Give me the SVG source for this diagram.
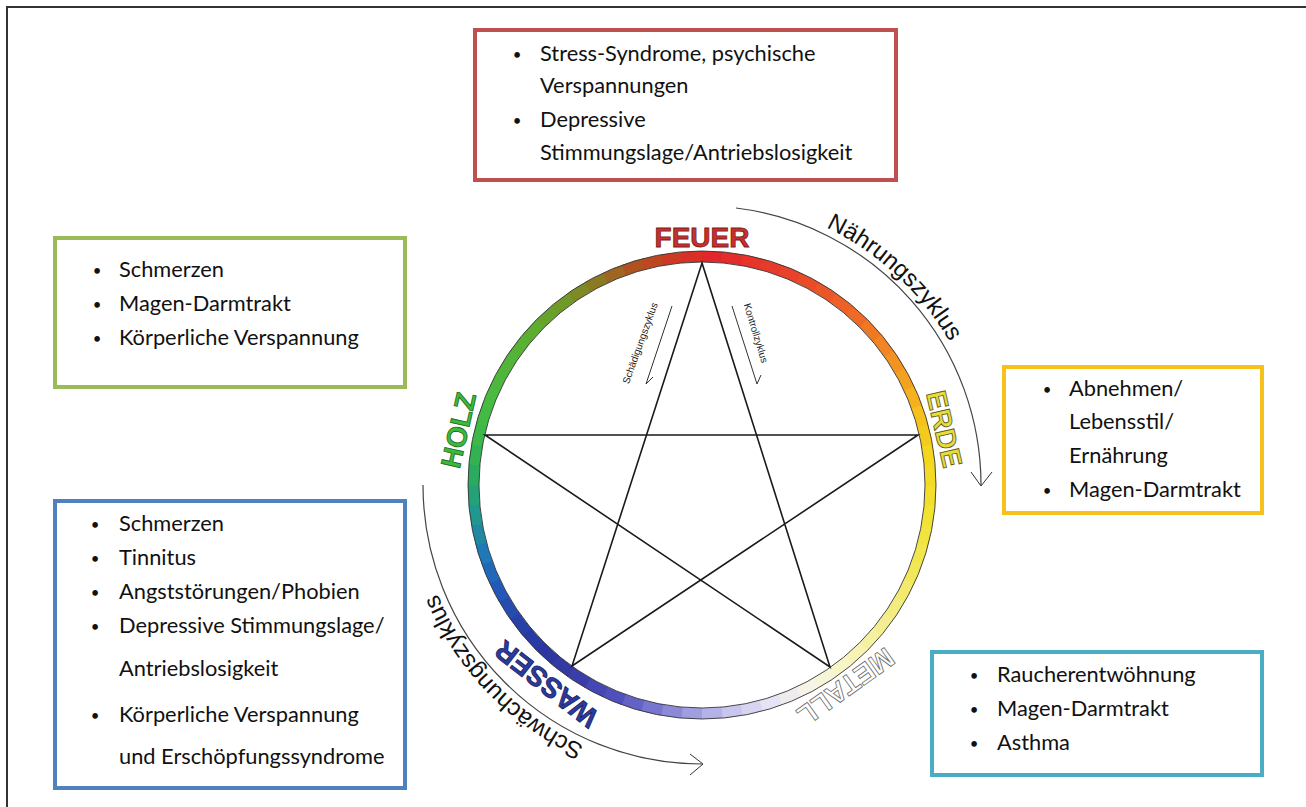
<svg xmlns="http://www.w3.org/2000/svg" width="1306" height="807" viewBox="0 0 1306 807">
<style>
.bg{fill:#fff}
.frame{stroke:#333;stroke-width:2;fill:none}
.box{fill:#fff;stroke-width:4}
.t{font-family:Lato,"Open Sans",sans-serif;font-size:21.8px;fill:#111}
.b{font-family:Lato,"Open Sans",sans-serif;font-size:15px;fill:#111;text-anchor:middle}
.seg{fill:none;stroke-width:11;stroke-dasharray:5.6 400}
.edge{fill:none;stroke:#333;stroke-width:0.9}
.star{stroke:#1a1a1a;stroke-width:1.6;fill:none;stroke-linecap:round}
.arc{stroke:#444;stroke-width:1.2;fill:none}
.lbl{font-family:"Liberation Sans",Arial,sans-serif;font-weight:bold;font-size:28px;text-anchor:middle;stroke-width:0.8}
.cyc{font-family:"Liberation Sans",Arial,sans-serif;font-size:24px;fill:#111}
.small{font-family:"Liberation Sans",Arial,sans-serif;font-size:10px;fill:#222;text-anchor:middle}
.thin{stroke:#333;stroke-width:1;fill:none}
</style>
<rect class="bg" x="0" y="0" width="1306" height="807"/>
<path class="frame" d="M7,807 V7 H1306"/>

<g id="ring" transform="rotate(-90 702 485)">
<circle class="seg" cx="702" cy="485" r="228.5" pathLength="360" style="stroke:#e3262b;stroke-dashoffset:0"/>
<circle class="seg" cx="702" cy="485" r="228.5" pathLength="360" style="stroke:#e42d2b;stroke-dashoffset:-5"/>
<circle class="seg" cx="702" cy="485" r="228.5" pathLength="360" style="stroke:#e6342a;stroke-dashoffset:-10"/>
<circle class="seg" cx="702" cy="485" r="228.5" pathLength="360" style="stroke:#e73b2a;stroke-dashoffset:-15"/>
<circle class="seg" cx="702" cy="485" r="228.5" pathLength="360" style="stroke:#e9422a;stroke-dashoffset:-20"/>
<circle class="seg" cx="702" cy="485" r="228.5" pathLength="360" style="stroke:#ea4c29;stroke-dashoffset:-25"/>
<circle class="seg" cx="702" cy="485" r="228.5" pathLength="360" style="stroke:#eb5628;stroke-dashoffset:-30"/>
<circle class="seg" cx="702" cy="485" r="228.5" pathLength="360" style="stroke:#ed6027;stroke-dashoffset:-35"/>
<circle class="seg" cx="702" cy="485" r="228.5" pathLength="360" style="stroke:#ee6a26;stroke-dashoffset:-40"/>
<circle class="seg" cx="702" cy="485" r="228.5" pathLength="360" style="stroke:#ef7825;stroke-dashoffset:-45"/>
<circle class="seg" cx="702" cy="485" r="228.5" pathLength="360" style="stroke:#f18523;stroke-dashoffset:-50"/>
<circle class="seg" cx="702" cy="485" r="228.5" pathLength="360" style="stroke:#f29322;stroke-dashoffset:-55"/>
<circle class="seg" cx="702" cy="485" r="228.5" pathLength="360" style="stroke:#f3a220;stroke-dashoffset:-60"/>
<circle class="seg" cx="702" cy="485" r="228.5" pathLength="360" style="stroke:#f5b11e;stroke-dashoffset:-65"/>
<circle class="seg" cx="702" cy="485" r="228.5" pathLength="360" style="stroke:#f6c11c;stroke-dashoffset:-70"/>
<circle class="seg" cx="702" cy="485" r="228.5" pathLength="360" style="stroke:#f4cb1d;stroke-dashoffset:-75"/>
<circle class="seg" cx="702" cy="485" r="228.5" pathLength="360" style="stroke:#f3d61e;stroke-dashoffset:-80"/>
<circle class="seg" cx="702" cy="485" r="228.5" pathLength="360" style="stroke:#f3da25;stroke-dashoffset:-85"/>
<circle class="seg" cx="702" cy="485" r="228.5" pathLength="360" style="stroke:#f2de2b;stroke-dashoffset:-90"/>
<circle class="seg" cx="702" cy="485" r="228.5" pathLength="360" style="stroke:#f2e332;stroke-dashoffset:-95"/>
<circle class="seg" cx="702" cy="485" r="228.5" pathLength="360" style="stroke:#f2e43f;stroke-dashoffset:-100"/>
<circle class="seg" cx="702" cy="485" r="228.5" pathLength="360" style="stroke:#f2e64d;stroke-dashoffset:-105"/>
<circle class="seg" cx="702" cy="485" r="228.5" pathLength="360" style="stroke:#f2e75a;stroke-dashoffset:-110"/>
<circle class="seg" cx="702" cy="485" r="228.5" pathLength="360" style="stroke:#f3e96c;stroke-dashoffset:-115"/>
<circle class="seg" cx="702" cy="485" r="228.5" pathLength="360" style="stroke:#f3ec7e;stroke-dashoffset:-120"/>
<circle class="seg" cx="702" cy="485" r="228.5" pathLength="360" style="stroke:#f4ee90;stroke-dashoffset:-125"/>
<circle class="seg" cx="702" cy="485" r="228.5" pathLength="360" style="stroke:#f5f1a3;stroke-dashoffset:-130"/>
<circle class="seg" cx="702" cy="485" r="228.5" pathLength="360" style="stroke:#f7f3b5;stroke-dashoffset:-135"/>
<circle class="seg" cx="702" cy="485" r="228.5" pathLength="360" style="stroke:#f8f6c8;stroke-dashoffset:-140"/>
<circle class="seg" cx="702" cy="485" r="228.5" pathLength="360" style="stroke:#f7f5d7;stroke-dashoffset:-145"/>
<circle class="seg" cx="702" cy="485" r="228.5" pathLength="360" style="stroke:#f6f4e6;stroke-dashoffset:-150"/>
<circle class="seg" cx="702" cy="485" r="228.5" pathLength="360" style="stroke:#eeeced;stroke-dashoffset:-155"/>
<circle class="seg" cx="702" cy="485" r="228.5" pathLength="360" style="stroke:#e6e4f4;stroke-dashoffset:-160"/>
<circle class="seg" cx="702" cy="485" r="228.5" pathLength="360" style="stroke:#d7d5f1;stroke-dashoffset:-165"/>
<circle class="seg" cx="702" cy="485" r="228.5" pathLength="360" style="stroke:#c8c6ee;stroke-dashoffset:-170"/>
<circle class="seg" cx="702" cy="485" r="228.5" pathLength="360" style="stroke:#b4b2e7;stroke-dashoffset:-175"/>
<circle class="seg" cx="702" cy="485" r="228.5" pathLength="360" style="stroke:#a09ee0;stroke-dashoffset:-180"/>
<circle class="seg" cx="702" cy="485" r="228.5" pathLength="360" style="stroke:#8b8ad8;stroke-dashoffset:-185"/>
<circle class="seg" cx="702" cy="485" r="228.5" pathLength="360" style="stroke:#7676d0;stroke-dashoffset:-190"/>
<circle class="seg" cx="702" cy="485" r="228.5" pathLength="360" style="stroke:#6363c6;stroke-dashoffset:-195"/>
<circle class="seg" cx="702" cy="485" r="228.5" pathLength="360" style="stroke:#5050bc;stroke-dashoffset:-200"/>
<circle class="seg" cx="702" cy="485" r="228.5" pathLength="360" style="stroke:#4547b2;stroke-dashoffset:-205"/>
<circle class="seg" cx="702" cy="485" r="228.5" pathLength="360" style="stroke:#3a3ea8;stroke-dashoffset:-210"/>
<circle class="seg" cx="702" cy="485" r="228.5" pathLength="360" style="stroke:#333aa4;stroke-dashoffset:-215"/>
<circle class="seg" cx="702" cy="485" r="228.5" pathLength="360" style="stroke:#2c35a0;stroke-dashoffset:-220"/>
<circle class="seg" cx="702" cy="485" r="228.5" pathLength="360" style="stroke:#2a3aa4;stroke-dashoffset:-225"/>
<circle class="seg" cx="702" cy="485" r="228.5" pathLength="360" style="stroke:#2840a8;stroke-dashoffset:-230"/>
<circle class="seg" cx="702" cy="485" r="228.5" pathLength="360" style="stroke:#264cb0;stroke-dashoffset:-235"/>
<circle class="seg" cx="702" cy="485" r="228.5" pathLength="360" style="stroke:#2458b8;stroke-dashoffset:-240"/>
<circle class="seg" cx="702" cy="485" r="228.5" pathLength="360" style="stroke:#2268b8;stroke-dashoffset:-245"/>
<circle class="seg" cx="702" cy="485" r="228.5" pathLength="360" style="stroke:#2078b8;stroke-dashoffset:-250"/>
<circle class="seg" cx="702" cy="485" r="228.5" pathLength="360" style="stroke:#2088a3;stroke-dashoffset:-255"/>
<circle class="seg" cx="702" cy="485" r="228.5" pathLength="360" style="stroke:#20988e;stroke-dashoffset:-260"/>
<circle class="seg" cx="702" cy="485" r="228.5" pathLength="360" style="stroke:#25a177;stroke-dashoffset:-265"/>
<circle class="seg" cx="702" cy="485" r="228.5" pathLength="360" style="stroke:#2aab60;stroke-dashoffset:-270"/>
<circle class="seg" cx="702" cy="485" r="228.5" pathLength="360" style="stroke:#33b254;stroke-dashoffset:-275"/>
<circle class="seg" cx="702" cy="485" r="228.5" pathLength="360" style="stroke:#3cb948;stroke-dashoffset:-280"/>
<circle class="seg" cx="702" cy="485" r="228.5" pathLength="360" style="stroke:#42ba44;stroke-dashoffset:-285"/>
<circle class="seg" cx="702" cy="485" r="228.5" pathLength="360" style="stroke:#48bb40;stroke-dashoffset:-290"/>
<circle class="seg" cx="702" cy="485" r="228.5" pathLength="360" style="stroke:#4db73c;stroke-dashoffset:-295"/>
<circle class="seg" cx="702" cy="485" r="228.5" pathLength="360" style="stroke:#52b438;stroke-dashoffset:-300"/>
<circle class="seg" cx="702" cy="485" r="228.5" pathLength="360" style="stroke:#58b034;stroke-dashoffset:-305"/>
<circle class="seg" cx="702" cy="485" r="228.5" pathLength="360" style="stroke:#5eac30;stroke-dashoffset:-310"/>
<circle class="seg" cx="702" cy="485" r="228.5" pathLength="360" style="stroke:#67a32c;stroke-dashoffset:-315"/>
<circle class="seg" cx="702" cy="485" r="228.5" pathLength="360" style="stroke:#709a28;stroke-dashoffset:-320"/>
<circle class="seg" cx="702" cy="485" r="228.5" pathLength="360" style="stroke:#7e8a25;stroke-dashoffset:-325"/>
<circle class="seg" cx="702" cy="485" r="228.5" pathLength="360" style="stroke:#8c7a22;stroke-dashoffset:-330"/>
<circle class="seg" cx="702" cy="485" r="228.5" pathLength="360" style="stroke:#9e6620;stroke-dashoffset:-335"/>
<circle class="seg" cx="702" cy="485" r="228.5" pathLength="360" style="stroke:#b0521f;stroke-dashoffset:-340"/>
<circle class="seg" cx="702" cy="485" r="228.5" pathLength="360" style="stroke:#be4621;stroke-dashoffset:-345"/>
<circle class="seg" cx="702" cy="485" r="228.5" pathLength="360" style="stroke:#cc3a24;stroke-dashoffset:-350"/>
<circle class="seg" cx="702" cy="485" r="228.5" pathLength="360" style="stroke:#d73027;stroke-dashoffset:-355"/>
<circle class="edge" cx="702" cy="485" r="223"/>
<circle class="edge" cx="702" cy="485" r="234"/>
</g>

<g id="connectors">
<polygon class="star" points="702,263 572,666 918,435 485,435 830,667"/>
<path class="arc" d="M736,208 A279,279 0 0 1 981,485"/>
<path class="thin" d="M971,472 L981,486 L992,472"/>
<path class="arc" d="M423,485 A279,279 0 0 0 702,764"/>
<path class="thin" d="M690,754 L703,764 L690,775"/>
<path class="thin" d="M672,306 L646,384 L653,377"/>
<path class="thin" d="M732,306 L757,384 L761,375"/>
</g>

<g id="cycle-labels">
<path id="pN" d="M702,199 A286,286 0 0 1 986.4,455.1" fill="none"/>
<path id="pS" d="M702,771 A286,286 0 0 1 416.2,475" fill="none"/>
<text class="cyc"><textPath href="#pN" startOffset="51%" text-anchor="middle">Nährungszyklus</textPath></text>
<text class="cyc"><textPath href="#pS" startOffset="50%" text-anchor="middle">Schwächungszyklus</textPath></text>
<text class="small" transform="translate(640,343) rotate(-70)" y="3.5">Schädigungszyklus</text>
<text class="small" transform="translate(756,333) rotate(73)" y="3.5">Kontrollzyklus</text>
</g>

<g id="node-feuer"><text class="lbl" x="702" y="247" fill="#c8302c" stroke="#7a1a1a" transform="rotate(0 702 485)">FEUER</text></g>
<g id="node-erde"><text class="lbl" x="702" y="246" fill="#e6dc3a" stroke="#5a5420" transform="rotate(77 702 485)">ERDE</text></g>
<g id="node-metall"><text class="lbl" x="702" y="247" fill="#ffffff" stroke="#6a6a6a" transform="rotate(144.5 702 485)">METALL</text></g>
<g id="node-wasser"><text class="lbl" x="702" y="242" fill="#2b3b9e" stroke="#1a2060" transform="rotate(218 702 485)">WASSER</text></g>
<g id="node-holz"><text class="lbl" x="702" y="245" fill="#3dba3d" stroke="#1a6a1a" transform="rotate(282.7 702 485)">HOLZ</text></g>

<g id="box-feuer">
<rect class="box" x="475" y="30" width="421" height="150" stroke="#c0504d"/>
<text class="b" x="517" y="60">•</text><text class="t" x="540" y="61">Stress-Syndrome, psychische</text>
<text class="t" x="540" y="93">Verspannungen</text>
<text class="b" x="517" y="126">•</text><text class="t" x="540" y="127">Depressive</text>
<text class="t" x="540" y="160">Stimmungslage/Antriebslosigkeit</text>
</g>
<g id="box-holz">
<rect class="box" x="55" y="238" width="350" height="149" stroke="#9bbb59"/>
<text class="b" x="97" y="276">•</text><text class="t" x="119" y="277">Schmerzen</text>
<text class="b" x="97" y="310">•</text><text class="t" x="119" y="311">Magen-Darmtrakt</text>
<text class="b" x="97" y="344">•</text><text class="t" x="119" y="345">Körperliche Verspannung</text>
</g>
<g id="box-erde">
<rect class="box" x="1004" y="367" width="258" height="146" stroke="#f8c01a"/>
<text class="b" x="1047" y="395">•</text><text class="t" x="1069" y="396">Abnehmen/</text>
<text class="t" x="1069" y="429">Lebensstil/</text>
<text class="t" x="1069" y="463">Ernährung</text>
<text class="b" x="1047" y="496">•</text><text class="t" x="1069" y="497">Magen-Darmtrakt</text>
</g>
<g id="box-wasser">
<rect class="box" x="55" y="501" width="350" height="287" stroke="#4f81bd"/>
<text class="b" x="95" y="530">•</text><text class="t" x="119" y="531">Schmerzen</text>
<text class="b" x="95" y="564">•</text><text class="t" x="119" y="565">Tinnitus</text>
<text class="b" x="95" y="598">•</text><text class="t" x="119" y="599">Angststörungen/Phobien</text>
<text class="b" x="95" y="632">•</text><text class="t" x="119" y="633">Depressive Stimmungslage/</text>
<text class="t" x="119" y="676">Antriebslosigkeit</text>
<text class="b" x="95" y="721">•</text><text class="t" x="119" y="722">Körperliche Verspannung</text>
<text class="t" x="119" y="764">und Erschöpfungssyndrome</text>
</g>
<g id="box-metall">
<rect class="box" x="932" y="652" width="330" height="123" stroke="#4bacc6"/>
<text class="b" x="974" y="681">•</text><text class="t" x="997" y="682">Raucherentwöhnung</text>
<text class="b" x="974" y="715">•</text><text class="t" x="997" y="716">Magen-Darmtrakt</text>
<text class="b" x="974" y="749">•</text><text class="t" x="997" y="750">Asthma</text>
</g>
</svg>
